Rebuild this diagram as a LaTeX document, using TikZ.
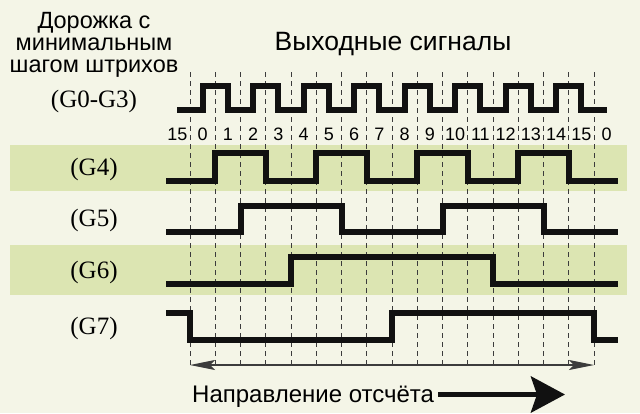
\documentclass[tikz,border=0pt]{standalone}
\usepackage{fontspec}
\setmainfont{Liberation Sans}
\newfontfamily\serifG{Liberation Serif}
\usetikzlibrary{arrows.meta}
\definecolor{bg}{HTML}{F4F5E7}
\definecolor{band}{HTML}{DCE5B2}
\definecolor{gridc}{HTML}{3C3C3C}
\definecolor{sigc}{HTML}{111111}
\begin{document}
\begin{tikzpicture}[x=1pt,y=-1pt,
  sig/.style={draw=sigc,line width=6pt,line join=miter,line cap=butt},
  gridline/.style={draw=gridc,line width=0.9pt,dash pattern=on 5pt off 4pt},
  bigtxt/.style={font=\fontsize{24}{24}\selectfont,inner sep=0pt,anchor=base},
  glabel/.style={font=\serifG\fontsize{25}{25}\selectfont,inner sep=0pt,anchor=base},
  num/.style={font=\fontsize{18}{18}\selectfont,inner sep=0pt},
  thinarrow/.style={draw=gridc,line width=1.1pt,{Stealth[length=25pt,width=10pt,inset=5pt]}-{Stealth[length=25pt,width=10pt,inset=5pt]}},
  thickarrow/.style={draw=sigc,line width=5.5pt,-{Stealth[length=34pt,width=36pt,inset=6pt]}}]
\fill[bg] (0,0) rectangle (640,413);
\useasboundingbox (0,0) rectangle (640,413);
\fill[band] (10,145) rectangle (627,191);
\fill[band] (10,245) rectangle (627,295);
% texts
\node[font=\fontsize{23.5}{22}\selectfont,inner sep=0pt,align=center,anchor=north] (track) at (94,12) {Дорожка с\\минимальным\\шагом штрихов};
\node[bigtxt,font=\fontsize{26.5}{26.5}\selectfont] (title) at (393,50) {Выходные сигналы};
\node[glabel] (g03) at (94,107) {(G0-G3)};
\node[glabel] (g4) at (94,175) {(G4)};
\node[glabel] (g5) at (94,226) {(G5)};
\node[glabel] (g6) at (94,278) {(G6)};
\node[glabel] (g7) at (94,334) {(G7)};
\begin{scope}[xshift=190pt,x=25.25pt,y=-1pt]
  \foreach \i in {0,...,16} \draw[gridline] (\i,72) -- (\i,368);
  \foreach \lab [count=\i from 0] in {15,0,1,2,3,4,5,6,7,8,9,10,11,12,13,14,15,0}
    \node[num] (n\i) at ({\i-0.5},134) {\lab};
  % G0-G3
  \draw[sig] (-0.5,110) foreach \k in {0,2,...,14} { -- ({\k+0.5},110) -- ({\k+0.5},86) -- ({\k+1.5},86) -- ({\k+1.5},110) } -- (16.5,110);
  % G4
  \draw[sig] (-0.95,181) -- (1,181) -- (1,153) -- (3,153) -- (3,181) -- (5,181) -- (5,153) -- (7,153) -- (7,181) -- (9,181) -- (9,153) -- (11,153) -- (11,181) -- (13,181) -- (13,153) -- (15,153) -- (15,181) -- (16.95,181);
  % G5
  \draw[sig] (-0.95,232) -- (2,232) -- (2,206) -- (6,206) -- (6,232) -- (10,232) -- (10,206) -- (14,206) -- (14,232) -- (16.95,232);
  % G6
  \draw[sig] (-0.95,284) -- (4,284) -- (4,257) -- (12,257) -- (12,284) -- (16.95,284);
  % G7
  \draw[sig] (-0.95,313) -- (0,313) -- (0,340) -- (8,340) -- (8,313) -- (16,313) -- (16,340) -- (16.95,340);
  \coordinate (aL) at (0,365);
  \coordinate (aR) at (16,365);
\end{scope}
\draw[thinarrow] (aL) -- (aR);
\node[font=\fontsize{24}{24}\selectfont,inner sep=0pt,anchor=base west] (dir) at (192,402) {Направление отсчёта};
\coordinate (dirEnd) at (565,394.5);
\draw[thickarrow] ([xshift=4pt]dir.east |- dirEnd) -- (dirEnd);
\end{tikzpicture}
\end{document}
